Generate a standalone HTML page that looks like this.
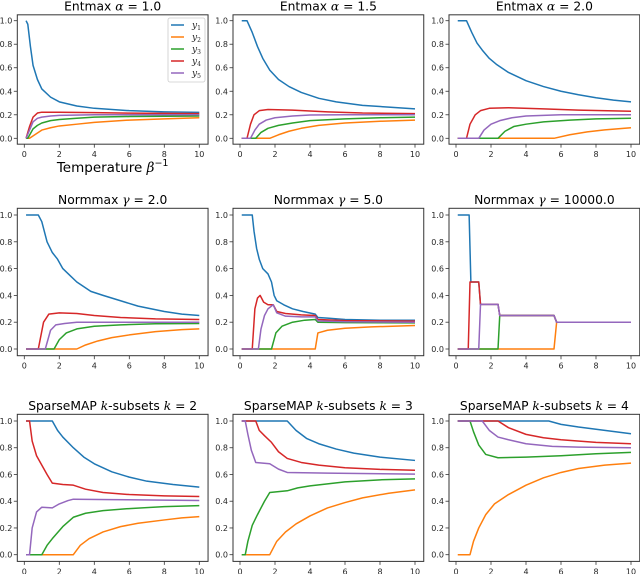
<!DOCTYPE html>
<html><head><meta charset="utf-8"><style>
html,body{margin:0;padding:0;background:#fff;}
svg{display:block;font-family:"DejaVu Sans","Liberation Sans",sans-serif;}
</style></head><body>
<svg id="fig" width="640" height="574" viewBox="0 0 640 574" xmlns="http://www.w3.org/2000/svg"></svg>
<script>
const xTicks = [0, 2, 4, 6, 8, 10];
const yTicks = [0.0, 0.2, 0.4, 0.6, 0.8, 1.0];
const seriesNames = ["y1", "y2", "y3", "y4", "y5"];
const colors = ["#1f77b4", "#ff7f0e", "#2ca02c", "#d62728", "#9467bd"];

// Entmax alpha=1.0
const e10_y1 = [[0.1,1],[0.2,0.97],[0.35,0.78],[0.5,0.62],[0.75,0.5],[1,0.42],[1.5,0.35],[2,0.31],[3,0.275],[4,0.255],[6,0.235],[8,0.225],[10,0.22]];
const e10_y2 = [[0.1,0],[0.3,0],[0.6,0.03],[1,0.07],[1.5,0.09],[2,0.105],[3,0.12],[4,0.135],[6,0.155],[8,0.165],[10,0.175]];
const e10_y3 = [[0.1,0],[0.2,0],[0.5,0.08],[0.75,0.11],[1,0.13],[1.5,0.15],[2,0.16],[3,0.17],[4,0.18],[6,0.185],[10,0.19]];
const e10_y4 = [[0.1,0],[0.3,0.1],[0.5,0.18],[0.75,0.215],[1,0.222],[2,0.222],[4,0.218],[6,0.214],[10,0.21]];
const e10_y5 = [[0.1,0],[0.3,0.07],[0.5,0.14],[0.75,0.17],[1,0.18],[1.5,0.19],[2,0.195],[4,0.2],[10,0.2]];
// Entmax alpha=1.5
const e15_y1 = [[0.1,1],[0.4,1],[0.7,0.9],[1,0.78],[1.3,0.68],[1.7,0.58],[2.2,0.5],[2.8,0.44],[3.5,0.39],[4.5,0.34],[5.5,0.31],[7,0.28],[8.5,0.265],[10,0.25]];
const e15_y2 = [[0.1,0],[1.7,0],[2.2,0.03],[2.8,0.06],[3.5,0.085],[4.5,0.11],[6,0.13],[8,0.145],[10,0.155]];
const e15_y3 = [[0.1,0],[0.9,0],[1.2,0.05],[1.6,0.085],[2.2,0.11],[3,0.13],[4,0.15],[6,0.165],[8,0.175],[10,0.18]];
const e15_y4 = [[0.1,0],[0.4,0],[0.6,0.12],[0.8,0.2],[1.1,0.235],[1.6,0.245],[3,0.24],[5,0.225],[7,0.215],[10,0.21]];
const e15_y5 = [[0.1,0],[0.6,0],[0.85,0.07],[1.1,0.12],[1.5,0.155],[2,0.175],[3,0.19],[4,0.198],[6,0.2],[10,0.2]];
// Entmax alpha=2.0
const e20_y1 = [[0.1,1],[0.6,1],[0.9,0.9],[1.2,0.81],[1.5,0.75],[1.9,0.68],[2.3,0.63],[3,0.56],[4,0.49],[5,0.44],[6,0.4],[7,0.37],[8,0.345],[9,0.325],[10,0.31]];
const e20_y2 = [[0.1,0],[5.6,0],[6.5,0.03],[7.5,0.055],[8.5,0.072],[10,0.09]];
const e20_y3 = [[0.1,0],[2.4,0],[2.8,0.06],[3.3,0.1],[4,0.12],[5,0.14],[6.5,0.155],[8,0.165],[10,0.17]];
const e20_y4 = [[0.1,0],[0.6,0],[0.8,0.12],[1.1,0.2],[1.4,0.235],[1.9,0.255],[3,0.26],[5,0.25],[7,0.24],[10,0.23]];
const e20_y5 = [[0.1,0],[1.3,0],[1.6,0.07],[2,0.12],[2.5,0.15],[3.2,0.175],[4,0.19],[6,0.2],[10,0.2]];
// Normmax gamma=2.0
const n2_y1 = [[0.1,1],[0.8,1],[1.0,0.95],[1.3,0.8],[1.6,0.72],[1.9,0.67],[2.2,0.6],[2.6,0.55],[3,0.5],[3.8,0.43],[4.5,0.4],[5.5,0.36],[6.5,0.32],[8,0.28],[9,0.26],[10,0.25]];
const n2_y2 = [[0.1,0],[3,0],[3.5,0.03],[4.2,0.06],[5,0.085],[6,0.105],[7.5,0.13],[9,0.145],[10,0.15]];
const n2_y3 = [[0.1,0],[1.7,0],[2,0.07],[2.4,0.12],[3,0.15],[4,0.17],[5.5,0.18],[7.5,0.188],[10,0.19]];
const n2_y4 = [[0.1,0],[0.8,0],[1.1,0.2],[1.4,0.26],[2,0.27],[3,0.265],[4,0.25],[5.5,0.235],[7.5,0.225],[10,0.22]];
const n2_y5 = [[0.1,0],[1.2,0],[1.5,0.14],[1.8,0.18],[2.3,0.19],[3,0.2],[5,0.2],[10,0.2]];
// Normmax gamma=5.0
const n5_y1 = [[0.1,1],[0.7,1],[0.8,0.88],[0.95,0.75],[1.1,0.67],[1.3,0.6],[1.6,0.56],[1.8,0.5],[1.95,0.4],[2.1,0.36],[2.5,0.33],[3,0.3],[3.6,0.28],[4.3,0.26],[4.45,0.235],[5,0.23],[6,0.22],[8,0.215],[10,0.215]];
const n5_y2 = [[0.1,0],[4.3,0],[4.45,0.12],[5,0.14],[6,0.155],[7.5,0.165],[10,0.175]];
const n5_y3 = [[0.1,0],[1.8,0],[2.05,0.12],[2.4,0.17],[3,0.2],[3.7,0.215],[4.3,0.22],[4.45,0.2],[6,0.197],[10,0.195]];
const n5_y4 = [[0.1,0],[0.7,0],[0.85,0.3],[1.0,0.38],[1.15,0.4],[1.35,0.35],[1.6,0.33],[1.9,0.33],[2.1,0.28],[2.6,0.265],[3.5,0.255],[4.3,0.25],[4.45,0.22],[6,0.212],[10,0.208]];
const n5_y5 = [[0.1,0],[1.05,0],[1.2,0.15],[1.4,0.25],[1.6,0.3],[1.9,0.33],[2.1,0.27],[2.6,0.245],[3.5,0.24],[4.3,0.24],[4.45,0.21],[6,0.203],[10,0.2]];
// Normmax gamma=10000
const n1e4_y1 = [[0.1,1],[0.75,1],[0.85,0.5],[1.3,0.5],[1.4,0.333],[2.4,0.333],[2.5,0.25],[5.6,0.25],[5.75,0.2],[10,0.2]];
const n1e4_y2 = [[0.1,0],[5.6,0],[5.75,0.2],[10,0.2]];
const n1e4_y3 = [[0.1,0],[2.4,0],[2.5,0.25],[5.6,0.25],[5.75,0.2],[10,0.2]];
const n1e4_y4 = [[0.1,0],[0.7,0],[0.8,0.5],[1.3,0.5],[1.4,0.333],[2.4,0.333],[2.5,0.25],[5.6,0.25],[5.75,0.2],[10,0.2]];
const n1e4_y5 = [[0.1,0],[1.3,0],[1.4,0.333],[2.4,0.333],[2.5,0.25],[5.6,0.25],[5.75,0.2],[10,0.2]];
// SparseMAP k=2
const k2_y1 = [[0.1,1],[1.6,1],[1.9,0.93],[2.2,0.88],[2.8,0.8],[3.4,0.73],[4,0.68],[5,0.62],[6,0.58],[7,0.55],[8.5,0.525],[10,0.505]];
const k2_y2 = [[0.1,0],[2.8,0],[3.2,0.07],[3.7,0.12],[4.5,0.17],[5.5,0.21],[6.5,0.235],[8,0.26],[9,0.275],[10,0.285]];
const k2_y3 = [[0.1,0],[1.0,0],[1.3,0.07],[1.6,0.12],[2.2,0.21],[2.8,0.28],[3.5,0.31],[4.5,0.33],[6,0.345],[8,0.36],[10,0.367]];
const k2_y4 = [[0.1,1],[0.3,1],[0.45,0.85],[0.7,0.74],[1.0,0.67],[1.3,0.6],[1.6,0.535],[2.2,0.525],[2.8,0.52],[3.5,0.49],[4.5,0.465],[6,0.45],[8,0.44],[10,0.435]];
const k2_y5 = [[0.1,0],[0.3,0],[0.45,0.2],[0.7,0.32],[1.0,0.355],[1.6,0.35],[2.0,0.38],[2.5,0.405],[2.8,0.415],[5,0.412],[10,0.405]];
// SparseMAP k=3
const k3_y1 = [[0.1,1],[2.7,1],[3.2,0.93],[3.8,0.87],[4.5,0.83],[5.5,0.79],[6.5,0.76],[8,0.73],[10,0.705]];
const k3_y2 = [[0.1,0],[1.7,0],[2.1,0.1],[2.6,0.17],[3.2,0.23],[4,0.29],[5,0.35],[6,0.39],[7,0.425],[8.5,0.46],[10,0.485]];
const k3_y3 = [[0.1,0],[0.3,0],[0.45,0.1],[0.7,0.22],[1.0,0.3],[1.4,0.4],[1.7,0.465],[2.7,0.478],[3.3,0.5],[4,0.515],[5,0.53],[6,0.545],[8,0.56],[10,0.567]];
const k3_y4 = [[0.1,1],[0.9,1],[1.1,0.93],[1.4,0.89],[1.8,0.84],[2.2,0.77],[2.7,0.72],[3.5,0.69],[4.5,0.67],[6,0.65],[8,0.638],[10,0.632]];
const k3_y5 = [[0.1,1],[0.3,1],[0.45,0.9],[0.65,0.78],[0.9,0.69],[1.7,0.68],[2.2,0.64],[2.7,0.615],[5,0.61],[10,0.603]];
// SparseMAP k=4
const k4_y1 = [[0.1,1],[5.3,1],[6,0.975],[7,0.955],[8.5,0.93],[10,0.905]];
const k4_y2 = [[0.1,0],[0.8,0],[1.0,0.1],[1.3,0.2],[1.7,0.3],[2.2,0.38],[3,0.45],[4,0.52],[5,0.575],[6,0.615],[7,0.645],[8.5,0.67],[10,0.685]];
const k4_y3 = [[0.1,1],[0.8,1],[1.0,0.92],[1.3,0.82],[1.7,0.75],[2.4,0.725],[4,0.73],[6,0.74],[8,0.755],[10,0.765]];
const k4_y4 = [[0.1,1],[2.4,1],[3,0.95],[4,0.9],[5,0.875],[6,0.86],[8,0.84],[10,0.83]];
const k4_y5 = [[0.1,1],[1.5,1],[1.9,0.93],[2.4,0.88],[3,0.86],[4,0.83],[5.5,0.81],[7,0.805],[10,0.8]];

const panels = [
  {name:"entmax-1-0", title:["Entmax ","α"," = 1.0"], data:[e10_y1,e10_y2,e10_y3,e10_y4,e10_y5]},
  {name:"entmax-1-5", title:["Entmax ","α"," = 1.5"], data:[e15_y1,e15_y2,e15_y3,e15_y4,e15_y5]},
  {name:"entmax-2-0", title:["Entmax ","α"," = 2.0"], data:[e20_y1,e20_y2,e20_y3,e20_y4,e20_y5]},
  {name:"normmax-2", title:["Normmax ","γ"," = 2.0"], data:[n2_y1,n2_y2,n2_y3,n2_y4,n2_y5]},
  {name:"normmax-5", title:["Normmax ","γ"," = 5.0"], data:[n5_y1,n5_y2,n5_y3,n5_y4,n5_y5]},
  {name:"normmax-10000", title:["Normmax ","γ"," = 10000.0"], data:[n1e4_y1,n1e4_y2,n1e4_y3,n1e4_y4,n1e4_y5]},
  {name:"sparsemap-k2", title:["SparseMAP ","k","-subsets ","k"," = 2"], data:[k2_y1,k2_y2,k2_y3,k2_y4,k2_y5]},
  {name:"sparsemap-k3", title:["SparseMAP ","k","-subsets ","k"," = 3"], data:[k3_y1,k3_y2,k3_y3,k3_y4,k3_y5]},
  {name:"sparsemap-k4", title:["SparseMAP ","k","-subsets ","k"," = 4"], data:[k4_y1,k4_y2,k4_y3,k4_y4,k4_y5]}
];

const NS = "http://www.w3.org/2000/svg";
const fig = document.getElementById("fig");
function mk(tag, attrs, parent){
  const e = document.createElementNS(NS, tag);
  for (const k in attrs) e.setAttribute(k, attrs[k]);
  (parent||fig).appendChild(e);
  return e;
}
const colOff = [0, 215.7, 431.7];
const rowGeom = [{top:20.7, bot:138.3},{top:215,bot:349},{top:421,bot:554.7}];
const xUnit = 17.5, xZero = 24.3;

panels.forEach((p, i) => {
  const r = Math.floor(i/3), c = i%3;
  const off = colOff[c], g = rowGeom[r];
  const sx = v => off + xZero + v*xUnit;
  const sy = v => g.bot - v*(g.bot - g.top);
  const L = sx(-0.4), R = sx(10.5), T = sy(1.05), B = sy(-0.05);
  const grp = mk("g", {});
  
  

  const t = mk("text", {x:(L+R)/2, y:T-4.5, "text-anchor":"middle", "font-size":"12.3", fill:"#000"}, grp);
  
  
  p.title.forEach(s => {
    const ts = mk("tspan", {}, t);
    if (s === "α" || s === "γ" || s === "k") { ts.setAttribute("font-style","italic"); ts.setAttribute("font-family","DejaVu Serif, serif"); }
    ts.textContent = s;
  });

  p.data.forEach((ser, si) => {
    const pts = ser.map(d => sx(d[0]).toFixed(2) + "," + sy(d[1]).toFixed(2)).join(" ");
    const pl = mk("polyline", {points:pts, fill:"none", stroke:colors[si], "stroke-width":"1.5", "stroke-linejoin":"round"}, grp);
    
    
  });

  const fr = mk("rect", {x:L, y:T, width:R-L, height:B-T, fill:"none", stroke:"#333", "stroke-width":"1"}, grp);
  
  

  xTicks.forEach(v => {
    const X = sx(v);
    mk("line", {x1:X, x2:X, y1:B, y2:B+3.5, stroke:"#333", "stroke-width":"0.8"}, grp);
    const tl = mk("text", {x:X, y:B+13, "text-anchor":"middle", "font-size":"8", fill:"#262626"}, grp);
    
    
    tl.textContent = String(v);
  });
  yTicks.forEach(v => {
    const Y = sy(v);
    mk("line", {x1:L-3.5, x2:L, y1:Y, y2:Y, stroke:"#333", "stroke-width":"0.8"}, grp);
    const tl = mk("text", {x:L-5, y:Y+3, "text-anchor":"end", "font-size":"8", fill:"#262626"}, grp);
    
    
    tl.textContent = v.toFixed(1);
  });

  if (i === 0) {
    const xl = mk("text", {x:(L+R)/2, y:172, "text-anchor":"middle", "font-size":"13.5", fill:"#000"}, grp);
    
    
    const a = mk("tspan", {}, xl); a.textContent = "Temperature ";
    const b = mk("tspan", {"font-style":"italic","font-family":"DejaVu Serif, serif"}, xl); b.textContent = "β";
    const cc = mk("tspan", {dy:"-6", "font-size":"9.5"}, xl); cc.textContent = "−1";

    const lg = mk("g", {}, grp);
    
    
    mk("rect", {x:168, y:18, width:37, height:64, rx:2, fill:"#fff", "fill-opacity":"0.85", stroke:"#ccc", "stroke-width":"0.8"}, lg);
    seriesNames.forEach((s, si) => {
      const Y = 25 + si*12;
      const en = mk("g", {}, lg);
      
      
      mk("line", {x1:171, x2:184, y1:Y, y2:Y, stroke:colors[si], "stroke-width":"1.5"}, en);
      const tx = mk("text", {x:192, y:Y+3, "font-size":"9", fill:"#262626", "font-family":"DejaVu Serif, serif", "font-style":"italic"}, en);
      tx.textContent = "y";
      const sub = mk("tspan", {dy:"2", "font-size":"6", "font-style":"normal"}, tx);
      sub.textContent = String(si+1);
    });
  }
});
</script>
</body></html>
